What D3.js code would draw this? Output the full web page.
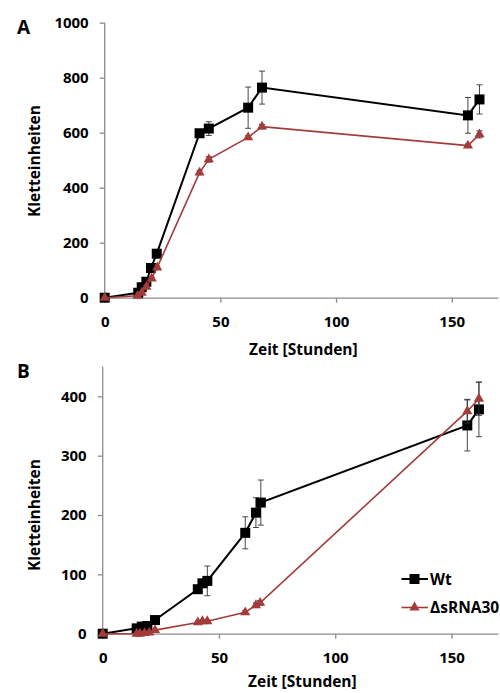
<!DOCTYPE html>
<html>
<head>
<meta charset="utf-8">
<script src="https://cdn.jsdelivr.net/npm/d3@7"></script>
<style>
  body { margin: 0; background: #fff; }
  svg text { font-family: "Open Sans", sans-serif; font-weight: bold; fill: #000; }
</style>
</head>
<body>
<svg id="chart" width="500" height="693"></svg>
<script>
// Panel A data
const timeA = [0, 14.5, 16, 18, 20, 22.5, 41, 45, 62, 68, 157, 162];
const wtA = [0, 18, 38, 58, 108, 160, 598, 615, 691, 764, 663, 721];
const wtErrA = [0, 4, 5, 6, 8, 8, 10, 25, 75, 60, 65, 53];
const mutTimeA = [0, 14.2, 16, 18, 20.3, 22.7, 41, 45, 62, 68, 157, 162];
const mutA = [0, 7, 18, 40, 70, 110, 455, 503, 583, 622, 553, 594];
const mutErrA = [0, 2, 3, 4, 5, 5, 8, 10, 6, 8, 6, 13];

// Panel B data
const timeB = [0, 14.6, 16.8, 19.2, 22.5, 40.9, 42.9, 45, 61.3, 65.9, 68, 156.8, 161.8];
const wtB = [0, 9, 12, 13, 23, 75, 85, 89, 170, 204, 221, 351, 378];
const wtErrB = [0, 2, 2, 2, 3, 6, 6, 25, 27, 25, 38, 43, 46];
const mutTimeB = [0, 14.6, 16, 18, 20, 22.5, 40.9, 42.9, 45, 61.3, 65.9, 67.7, 156.8, 161.8];
const mutB = [0, 0, 0, 1, 2, 6, 19, 21, 21, 36, 48, 52, 375, 396];
const mutErrB = [0, 0, 0, 0, 0, 1, 2, 2, 2, 3, 4, 4, 20, 28];

const xTicks = [0, 50, 100, 150];
const yTicksA = [0, 200, 400, 600, 800, 1000];
const yTicksB = [0, 100, 200, 300, 400];

const labelWt = 'Wt';
const labelMut = '\u0394sRNA30';
const xTitle = 'Zeit [Stunden]';
const yTitle = 'Kletteinheiten';

const black = '#000';
const red = '#A33B3B';
const axisGrey = '#8c8c8c';

const svg = d3.select('#chart');

function zip(xs, ys, es) {
    return xs.map((x, i) => ({ x: x, y: ys[i], e: es[i] }));
}

function drawPanel(opts) {
    const g = svg.append('g');
    const x = d3.scaleLinear().domain([0, 170]).range([opts.left, opts.right]);
    const y = d3.scaleLinear().domain([0, opts.yMax]).range([opts.bottom, opts.top]);

    // x axis
    const xAxis = g.append('g')
        .attr('transform', `translate(0,${opts.bottom})`)
        .call(d3.axisBottom(x).tickValues(xTicks).tickFormat(d3.format('d'))
            .tickSize(5).tickSizeOuter(0).tickPadding(14));
    // y axis
    const yAxis = g.append('g')
        .attr('transform', `translate(${opts.left},0)`)
        .call(d3.axisLeft(y).tickValues(opts.yTicks).tickFormat(d3.format('d'))
            .tickSize(5).tickSizeOuter(0).tickPadding(11));

    [xAxis, yAxis].forEach(a => {
        a.select('.domain').attr('stroke', axisGrey).attr('stroke-width', 1.3);
        a.selectAll('.tick line').attr('stroke', axisGrey).attr('stroke-width', 1.3);
        a.selectAll('.tick text')
            .attr('font-size', 15)
            .attr('font-family', '"Open Sans", sans-serif')
            .attr('font-weight', 'bold')
            .attr('fill', '#000');
    });
    yAxis.select('.domain').attr('d', `M0,${opts.bottom}V${opts.top}`);

    // titles
    g.append('text')
        .attr('x', (opts.left + opts.right) / 2 + 2)
        .attr('y', opts.bottom + opts.titleOffset)
        .attr('text-anchor', 'middle')
        .attr('font-size', 15.5)
        .text(xTitle);
    g.append('text')
        .attr('transform', `translate(39.5,${opts.yLabelCenter}) rotate(-90)`)
        .attr('text-anchor', 'middle')
        .attr('font-size', 15.5)
        .text(yTitle);
    g.append('text')
        .attr('x', opts.letterX)
        .attr('y', opts.letterY)
        .attr('font-size', 19)
        .attr('font-family', '"Liberation Sans", Arial, sans-serif')
        .text(opts.letter);

    const line = d3.line().x(d => x(d.x)).y(d => y(d.y));

    opts.series.forEach(s => {
        const pts = zip(s.xs, s.ys, s.es);
        // error bars
        const eb = g.append('g').attr('stroke', '#333').attr('stroke-width', 0.9);
        pts.filter(d => d.e > 0).forEach(d => {
            eb.append('line').attr('x1', x(d.x)).attr('x2', x(d.x))
                .attr('y1', y(d.y - d.e)).attr('y2', y(d.y + d.e));
            [d.y - d.e, d.y + d.e].forEach(v => {
                eb.append('line').attr('x1', x(d.x) - 3).attr('x2', x(d.x) + 3)
                    .attr('y1', y(v)).attr('y2', y(v));
            });
        });
        g.append('path')
            .datum(pts)
            .attr('fill', 'none')
            .attr('stroke', s.color)
            .attr('stroke-width', s.width)
            .attr('d', line);
        g.selectAll(null)
            .data(pts)
            .join('path')
            .attr('transform', d => `translate(${x(d.x)},${y(d.y)})`)
            .attr('d', d3.symbol().type(s.symbol).size(s.size))
            .attr('fill', s.color);
    });

    return g;
}

const seriesStyle = {
    wt: { color: black, width: 2, symbol: d3.symbolSquare, size: 100 },
    mut: { color: red, width: 1.6, symbol: d3.symbolTriangle, size: 45 }
};

drawPanel({
    left: 104.7, right: 498, top: 22.7, bottom: 297.7, yMax: 1000, titleOffset: 57.5,
    yTicks: yTicksA, yLabelCenter: 161, letter: 'A', letterX: 17, letterY: 34,
    series: [
        Object.assign({ xs: timeA, ys: wtA, es: wtErrA }, seriesStyle.wt),
        Object.assign({ xs: mutTimeA, ys: mutA, es: mutErrA }, seriesStyle.mut)
    ]
});

drawPanel({
    left: 102.7, right: 498, top: 366.7, bottom: 633.7, yMax: 450, titleOffset: 53.5,
    yTicks: yTicksB, yLabelCenter: 515, letter: 'B', letterX: 17, letterY: 378,
    series: [
        Object.assign({ xs: timeB, ys: wtB, es: wtErrB }, seriesStyle.wt),
        Object.assign({ xs: mutTimeB, ys: mutB, es: mutErrB }, seriesStyle.mut)
    ]
});

// Legend (panel B)
const legend = svg.append('g');
const legendItems = [
    { label: labelWt, style: seriesStyle.wt, y: 579 },
    { label: labelMut, style: seriesStyle.mut, y: 607.5 }
];
legendItems.forEach(it => {
    legend.append('line')
        .attr('x1', 401.5).attr('x2', 428)
        .attr('y1', it.y).attr('y2', it.y)
        .attr('stroke', it.style.color).attr('stroke-width', it.style.width);
    legend.append('path')
        .attr('transform', `translate(414.5,${it.y})`)
        .attr('d', d3.symbol().type(it.style.symbol).size(it.style.size))
        .attr('fill', it.style.color);
    legend.append('text')
        .attr('x', 430)
        .attr('y', it.y + 5.5)
        .attr('font-size', 15.5)
        .text(it.label);
});
</script>
</body>
</html>
